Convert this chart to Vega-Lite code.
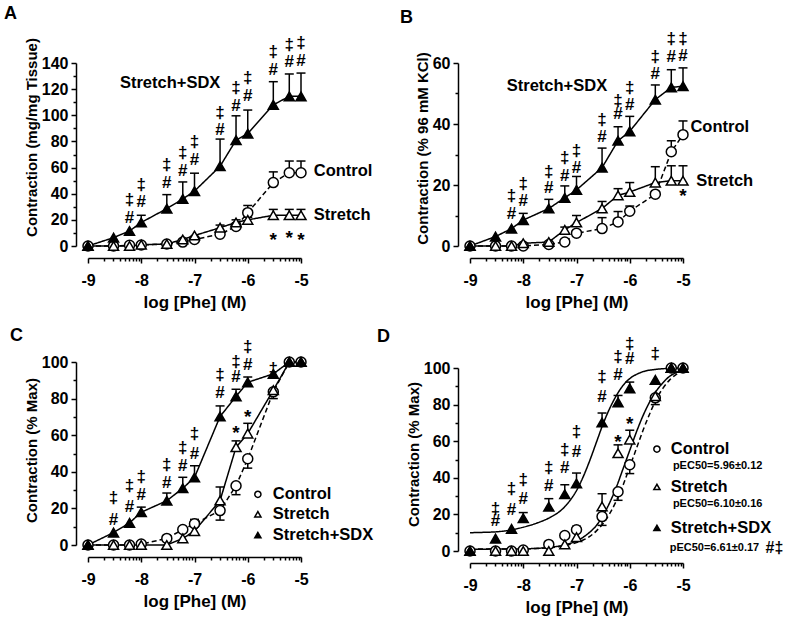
{
"$schema": "https://vega.github.io/schema/vega-lite/v6.json",
"background": "white",
"padding": {"left": 4, "top": 5, "right": 5, "bottom": 5},
"config": {
 "view": {"stroke": null},
 "font": "Liberation Sans",
 "axis": {"grid": false, "domainColor": "black", "domainWidth": 1.5, "tickColor": "black", "tickWidth": 1.5, "labelFont": "Liberation Sans", "labelFontSize": 16, "labelFontWeight": "bold", "labelColor": "black", "titleFont": "Liberation Sans", "titleColor": "black", "offset": 12, "labelOverlap": false, "labelFlush": false},
 "axisX": {"titleFontSize": 17, "titleFontWeight": "bold", "titlePadding": 6, "labelPadding": 9},
 "axisY": {"titleFontSize": 15, "titleFontWeight": "bold", "titlePadding": 2, "labelPadding": 3},
 "title": {"font": "Liberation Sans", "fontSize": 18, "fontWeight": "bold", "color": "black", "anchor": "start", "frame": "group", "baseline": "alphabetic"}
},
"datasets": {
 "A": [
  {"g":"Control","x":-9,"v":0},{"g":"Control","x":-8.52,"v":0},{"g":"Control","x":-8.22,"v":0.5},{"g":"Control","x":-8,"v":0.8},{"g":"Control","x":-7.52,"v":1.5},{"g":"Control","x":-7.22,"v":3},{"g":"Control","x":-7,"v":5},{"g":"Control","x":-6.52,"v":9},{"g":"Control","x":-6.22,"v":15,"e":17},{"g":"Control","x":-6,"v":25.5,"e":31},{"g":"Control","x":-5.52,"v":48.5,"e":56.7},{"g":"Control","x":-5.22,"v":56,"e":65},{"g":"Control","x":-5,"v":56,"e":65},
  {"g":"Stretch","x":-9,"v":0},{"g":"Stretch","x":-8.52,"v":0},{"g":"Stretch","x":-8.22,"v":0},{"g":"Stretch","x":-8,"v":1},{"g":"Stretch","x":-7.52,"v":1.5},{"g":"Stretch","x":-7.22,"v":5},{"g":"Stretch","x":-7,"v":8},{"g":"Stretch","x":-6.52,"v":14,"e":16},{"g":"Stretch","x":-6.22,"v":18,"e":20},{"g":"Stretch","x":-6,"v":20,"e":22},{"g":"Stretch","x":-5.52,"v":23.5,"e":28},{"g":"Stretch","x":-5.22,"v":23.5,"e":28},{"g":"Stretch","x":-5,"v":23.5,"e":28},
  {"g":"Stretch+SDX","x":-9,"v":0},{"g":"Stretch+SDX","x":-8.52,"v":6.4},{"g":"Stretch+SDX","x":-8.22,"v":11.5},{"g":"Stretch+SDX","x":-8,"v":18,"e":23.5},{"g":"Stretch+SDX","x":-7.52,"v":28.6,"e":39.3},{"g":"Stretch+SDX","x":-7.22,"v":36,"e":49},{"g":"Stretch+SDX","x":-7,"v":42,"e":55.7},{"g":"Stretch+SDX","x":-6.52,"v":61,"e":81.8},{"g":"Stretch+SDX","x":-6.22,"v":81,"e":99.6},{"g":"Stretch+SDX","x":-6,"v":86,"e":104},{"g":"Stretch+SDX","x":-5.52,"v":108,"e":125.7},{"g":"Stretch+SDX","x":-5.22,"v":114.5,"e":131.6},{"g":"Stretch+SDX","x":-5,"v":114.5,"e":132.3}
 ],
 "A_sym": [
  {"x":-8.22,"v":35.3,"t":"‡"},{"x":-8.22,"v":21.2,"t":"#"},{"x":-8,"v":46.8,"t":"‡"},{"x":-8,"v":34,"t":"#"},{"x":-7.52,"v":61.8,"t":"‡"},{"x":-7.52,"v":48,"t":"#"},{"x":-7.22,"v":71,"t":"‡"},{"x":-7.22,"v":57.5,"t":"#"},{"x":-7,"v":79.7,"t":"‡"},{"x":-7,"v":65.9,"t":"#"},{"x":-6.52,"v":101.7,"t":"‡"},{"x":-6.52,"v":88.9,"t":"#"},{"x":-6.22,"v":120.6,"t":"‡"},{"x":-6.22,"v":106.8,"t":"#"},{"x":-6,"v":128.3,"t":"‡"},{"x":-6,"v":115,"t":"#"},{"x":-5.52,"v":148.2,"t":"‡"},{"x":-5.52,"v":134.9,"t":"#"},{"x":-5.22,"v":153.8,"t":"‡"},{"x":-5.22,"v":141,"t":"#"},{"x":-5,"v":155.3,"t":"‡"},{"x":-5,"v":141.8,"t":"#"}
 ],
 "A_star": [
  {"x":-5.52,"v":4.5,"t":"*"},{"x":-5.22,"v":6,"t":"*"},{"x":-5,"v":4.5,"t":"*"}
 ],
 "A_lab": [
  {"x":-8.4,"v":124.7,"t":"Stretch+SDX"},{"x":-4.76,"v":57.5,"t":"Control"},{"x":-4.76,"v":23.5,"t":"Stretch"}
 ],
 "B": [
  {"g":"Control","x":-9,"v":0},{"g":"Control","x":-8.52,"v":0},{"g":"Control","x":-8.22,"v":0},{"g":"Control","x":-8,"v":0},{"g":"Control","x":-7.52,"v":0.5},{"g":"Control","x":-7.22,"v":1.3},{"g":"Control","x":-7,"v":4.2},{"g":"Control","x":-6.52,"v":5.7,"e":9.3},{"g":"Control","x":-6.22,"v":7.9,"e":11.3},{"g":"Control","x":-6,"v":11.4,"e":13.1},{"g":"Control","x":-5.52,"v":17},{"g":"Control","x":-5.22,"v":30.9,"e":34.5},{"g":"Control","x":-5,"v":36.5,"e":41},
  {"g":"Stretch","x":-9,"v":0},{"g":"Stretch","x":-8.52,"v":0},{"g":"Stretch","x":-8.22,"v":0},{"g":"Stretch","x":-8,"v":0.9},{"g":"Stretch","x":-7.52,"v":1.3},{"g":"Stretch","x":-7.22,"v":5.3,"e":6.2},{"g":"Stretch","x":-7,"v":7.7,"e":10},{"g":"Stretch","x":-6.52,"v":12.3,"e":14.6},{"g":"Stretch","x":-6.22,"v":16.6,"e":18.8},{"g":"Stretch","x":-6,"v":17.7,"e":20.8},{"g":"Stretch","x":-5.52,"v":20.8,"e":26},{"g":"Stretch","x":-5.22,"v":21.4,"e":26.3},{"g":"Stretch","x":-5,"v":21.4,"e":26.3},
  {"g":"Stretch+SDX","x":-9,"v":0},{"g":"Stretch+SDX","x":-8.52,"v":3.1},{"g":"Stretch+SDX","x":-8.22,"v":5.7},{"g":"Stretch+SDX","x":-8,"v":8.5,"e":10.7},{"g":"Stretch+SDX","x":-7.52,"v":12.3,"e":15.3},{"g":"Stretch+SDX","x":-7.22,"v":15.8,"e":19.7},{"g":"Stretch+SDX","x":-7,"v":18.4,"e":22.8},{"g":"Stretch+SDX","x":-6.52,"v":25.7,"e":32.1},{"g":"Stretch+SDX","x":-6.22,"v":34.5,"e":39.1},{"g":"Stretch+SDX","x":-6,"v":37.6,"e":42.5},{"g":"Stretch+SDX","x":-5.52,"v":48,"e":52.8},{"g":"Stretch+SDX","x":-5.22,"v":52,"e":57.8},{"g":"Stretch+SDX","x":-5,"v":52.4,"e":58.4}
 ],
 "B_sym": [
  {"x":-8.22,"v":16.4,"t":"‡"},{"x":-8.22,"v":10.4,"t":"#"},{"x":-8,"v":20.3,"t":"‡"},{"x":-8,"v":14.8,"t":"#"},{"x":-7.52,"v":24.1,"t":"‡"},{"x":-7.52,"v":18.9,"t":"#"},{"x":-7.22,"v":28.7,"t":"‡"},{"x":-7.22,"v":23,"t":"#"},{"x":-7,"v":31.2,"t":"‡"},{"x":-7,"v":25.7,"t":"#"},{"x":-6.52,"v":41.4,"t":"‡"},{"x":-6.52,"v":35.9,"t":"#"},{"x":-6.22,"v":47.6,"t":"‡"},{"x":-6.22,"v":43.3,"t":"#"},{"x":-6,"v":51.7,"t":"‡"},{"x":-6,"v":46.2,"t":"#"},{"x":-5.52,"v":61.9,"t":"‡"},{"x":-5.52,"v":56.4,"t":"#"},{"x":-5.22,"v":67.9,"t":"‡"},{"x":-5.22,"v":61.9,"t":"#"},{"x":-5,"v":67.9,"t":"‡"},{"x":-5,"v":62.2,"t":"#"}
 ],
 "B_star": [
  {"x":-5,"v":16.3,"t":"*"}
 ],
 "B_lab": [
  {"x":-8.31,"v":52.4,"t":"Stretch+SDX"},{"x":-4.86,"v":38.9,"t":"Control"},{"x":-4.75,"v":21.4,"t":"Stretch"}
 ],
 "C": [
  {"g":"Control","x":-9,"v":0},{"g":"Control","x":-8.52,"v":0},{"g":"Control","x":-8.22,"v":0},{"g":"Control","x":-8,"v":0.5},{"g":"Control","x":-7.52,"v":3.6},{"g":"Control","x":-7.22,"v":8.5},{"g":"Control","x":-7,"v":11.6,"e":14},{"g":"Control","x":-6.52,"v":18.8,"e":13.6},{"g":"Control","x":-6.22,"v":32.4,"e":27.5},{"g":"Control","x":-6,"v":47.1,"e":42},{"g":"Control","x":-5.52,"v":83.7,"e":80},{"g":"Control","x":-5.22,"v":100},{"g":"Control","x":-5,"v":100},
  {"g":"Stretch","x":-9,"v":0},{"g":"Stretch","x":-8.52,"v":0},{"g":"Stretch","x":-8.22,"v":0},{"g":"Stretch","x":-8,"v":0},{"g":"Stretch","x":-7.52,"v":0},{"g":"Stretch","x":-7.22,"v":3.6},{"g":"Stretch","x":-7,"v":7.6},{"g":"Stretch","x":-6.52,"v":24.3,"e":31.7},{"g":"Stretch","x":-6.22,"v":53.4,"e":56.9},{"g":"Stretch","x":-6,"v":60.9,"e":66.5},{"g":"Stretch","x":-5.52,"v":84.6},{"g":"Stretch","x":-5.22,"v":100},{"g":"Stretch","x":-5,"v":100},
  {"g":"Stretch+SDX","x":-9,"v":0},{"g":"Stretch+SDX","x":-8.52,"v":6.8},{"g":"Stretch+SDX","x":-8.22,"v":12.1},{"g":"Stretch+SDX","x":-8,"v":17.9,"e":20.7},{"g":"Stretch+SDX","x":-7.52,"v":24.2,"e":28.4},{"g":"Stretch+SDX","x":-7.22,"v":31,"e":37},{"g":"Stretch+SDX","x":-7,"v":36.9,"e":43.3},{"g":"Stretch+SDX","x":-6.52,"v":70.2,"e":76},{"g":"Stretch+SDX","x":-6.22,"v":81.2,"e":85.1},{"g":"Stretch+SDX","x":-6,"v":88.9,"e":91.8},{"g":"Stretch+SDX","x":-5.52,"v":93.5},{"g":"Stretch+SDX","x":-5.22,"v":100},{"g":"Stretch+SDX","x":-5,"v":100}
 ],
 "C_sym": [
  {"x":-8.52,"v":25.7,"t":"‡"},{"x":-8.52,"v":13.9,"t":"#"},{"x":-8.22,"v":32.1,"t":"‡"},{"x":-8.22,"v":20.7,"t":"#"},{"x":-8,"v":37,"t":"‡"},{"x":-8,"v":27.2,"t":"#"},{"x":-7.52,"v":43.5,"t":"‡"},{"x":-7.52,"v":33.9,"t":"#"},{"x":-7.22,"v":52.9,"t":"‡"},{"x":-7.22,"v":42.9,"t":"#"},{"x":-7,"v":60.5,"t":"‡"},{"x":-7,"v":49.6,"t":"#"},{"x":-6.52,"v":93.1,"t":"‡"},{"x":-6.52,"v":82.8,"t":"#"},{"x":-6.22,"v":100,"t":"‡"},{"x":-6.22,"v":91.8,"t":"#"},{"x":-6,"v":108.2,"t":"‡"},{"x":-6,"v":98.2,"t":"#"},{"x":-5.52,"v":96.4,"t":"‡"}
 ],
 "C_star": [
  {"x":-6.22,"v":61.3,"t":"*"},{"x":-6,"v":69.8,"t":"*"}
 ],
 "C_key": [
  {"g":"Control","x":-5.81,"v":27.7},{"g":"Stretch","x":-5.81,"v":16.8},{"g":"Stretch+SDX","x":-5.81,"v":5.4}
 ],
 "C_keytext": [
  {"x":-5.53,"v":27.7,"t":"Control"},{"x":-5.53,"v":16.8,"t":"Stretch"},{"x":-5.53,"v":5.4,"t":"Stretch+SDX"}
 ],
 "D": [
  {"g":"Control","x":-9,"v":0},{"g":"Control","x":-8.52,"v":0},{"g":"Control","x":-8.22,"v":0},{"g":"Control","x":-8,"v":0.5},{"g":"Control","x":-7.52,"v":3.6},{"g":"Control","x":-7.22,"v":8.5},{"g":"Control","x":-7,"v":11.6,"e":13.5},{"g":"Control","x":-6.52,"v":18.8,"e":14},{"g":"Control","x":-6.22,"v":32.4,"e":27.7},{"g":"Control","x":-6,"v":47.1,"e":42.3},{"g":"Control","x":-5.52,"v":83.7,"e":80},{"g":"Control","x":-5.22,"v":100},{"g":"Control","x":-5,"v":100},
  {"g":"Stretch","x":-9,"v":0},{"g":"Stretch","x":-8.52,"v":0},{"g":"Stretch","x":-8.22,"v":0},{"g":"Stretch","x":-8,"v":0},{"g":"Stretch","x":-7.52,"v":0},{"g":"Stretch","x":-7.22,"v":3.6},{"g":"Stretch","x":-7,"v":7.6},{"g":"Stretch","x":-6.52,"v":24.3,"e":31.3},{"g":"Stretch","x":-6.22,"v":53.4,"e":58},{"g":"Stretch","x":-6,"v":60.9,"e":66},{"g":"Stretch","x":-5.52,"v":84.6},{"g":"Stretch","x":-5.22,"v":100},{"g":"Stretch","x":-5,"v":100},
  {"g":"Stretch+SDX","x":-9,"v":0},{"g":"Stretch+SDX","x":-8.52,"v":6.8},{"g":"Stretch+SDX","x":-8.22,"v":12.1},{"g":"Stretch+SDX","x":-8,"v":17.9,"e":21},{"g":"Stretch+SDX","x":-7.52,"v":24.2,"e":28.6},{"g":"Stretch+SDX","x":-7.22,"v":31,"e":36.2},{"g":"Stretch+SDX","x":-7,"v":36.9,"e":42.6},{"g":"Stretch+SDX","x":-6.52,"v":70.2,"e":75.4},{"g":"Stretch+SDX","x":-6.22,"v":81.2,"e":85},{"g":"Stretch+SDX","x":-6,"v":88.9,"e":92.3},{"g":"Stretch+SDX","x":-5.52,"v":93.5},{"g":"Stretch+SDX","x":-5.22,"v":100},{"g":"Stretch+SDX","x":-5,"v":100}
 ],
 "D_fit": [
  {"g":"Control","x":-9,"v":1},{"g":"Control","x":-8.5,"v":1.1},{"g":"Control","x":-8,"v":1.2},{"g":"Control","x":-7.5,"v":1.8},{"g":"Control","x":-7.25,"v":2.8},{"g":"Control","x":-7,"v":4.6},{"g":"Control","x":-6.875,"v":6},{"g":"Control","x":-6.75,"v":8},{"g":"Control","x":-6.625,"v":11},{"g":"Control","x":-6.5,"v":15},{"g":"Control","x":-6.375,"v":20.5},{"g":"Control","x":-6.25,"v":27.5},{"g":"Control","x":-6.125,"v":36},{"g":"Control","x":-6,"v":46},{"g":"Control","x":-5.875,"v":56},{"g":"Control","x":-5.75,"v":66},{"g":"Control","x":-5.625,"v":75},{"g":"Control","x":-5.5,"v":83},{"g":"Control","x":-5.375,"v":89},{"g":"Control","x":-5.25,"v":93.5},{"g":"Control","x":-5.125,"v":96.5},{"g":"Control","x":-5,"v":98.5},
  {"g":"Stretch","x":-9,"v":1},{"g":"Stretch","x":-8.5,"v":1.05},{"g":"Stretch","x":-8,"v":1.2},{"g":"Stretch","x":-7.5,"v":2},{"g":"Stretch","x":-7.25,"v":3.2},{"g":"Stretch","x":-7,"v":5.5},{"g":"Stretch","x":-6.875,"v":7.5},{"g":"Stretch","x":-6.75,"v":10.3},{"g":"Stretch","x":-6.625,"v":14},{"g":"Stretch","x":-6.5,"v":19.5},{"g":"Stretch","x":-6.375,"v":26.5},{"g":"Stretch","x":-6.25,"v":35},{"g":"Stretch","x":-6.125,"v":45},{"g":"Stretch","x":-6,"v":55},{"g":"Stretch","x":-5.875,"v":65},{"g":"Stretch","x":-5.75,"v":74},{"g":"Stretch","x":-5.625,"v":81.5},{"g":"Stretch","x":-5.5,"v":87.5},{"g":"Stretch","x":-5.375,"v":92},{"g":"Stretch","x":-5.25,"v":95.5},{"g":"Stretch","x":-5.125,"v":97.5},{"g":"Stretch","x":-5,"v":98.8},
  {"g":"Stretch+SDX","x":-9,"v":10},{"g":"Stretch+SDX","x":-8.75,"v":10.2},{"g":"Stretch+SDX","x":-8.5,"v":10.5},{"g":"Stretch+SDX","x":-8.25,"v":11.4},{"g":"Stretch+SDX","x":-8,"v":13},{"g":"Stretch+SDX","x":-7.75,"v":15.2},{"g":"Stretch+SDX","x":-7.5,"v":18.3},{"g":"Stretch+SDX","x":-7.25,"v":23.3},{"g":"Stretch+SDX","x":-7.125,"v":27.5},{"g":"Stretch+SDX","x":-7,"v":33},{"g":"Stretch+SDX","x":-6.875,"v":40.5},{"g":"Stretch+SDX","x":-6.75,"v":49.5},{"g":"Stretch+SDX","x":-6.625,"v":59.5},{"g":"Stretch+SDX","x":-6.5,"v":69.5},{"g":"Stretch+SDX","x":-6.375,"v":78},{"g":"Stretch+SDX","x":-6.25,"v":85},{"g":"Stretch+SDX","x":-6.125,"v":90.5},{"g":"Stretch+SDX","x":-6,"v":94.2},{"g":"Stretch+SDX","x":-5.875,"v":96.5},{"g":"Stretch+SDX","x":-5.75,"v":98},{"g":"Stretch+SDX","x":-5.5,"v":99.3},{"g":"Stretch+SDX","x":-5.25,"v":99.8},{"g":"Stretch+SDX","x":-5,"v":100}
 ],
 "D_sym": [
  {"x":-8.52,"v":23.1,"t":"‡"},{"x":-8.52,"v":16.4,"t":"#"},{"x":-8.22,"v":34.1,"t":"‡"},{"x":-8.22,"v":22.2,"t":"#"},{"x":-8,"v":38.6,"t":"‡"},{"x":-8,"v":28.6,"t":"#"},{"x":-7.52,"v":45.4,"t":"‡"},{"x":-7.52,"v":35.5,"t":"#"},{"x":-7.22,"v":55,"t":"‡"},{"x":-7.22,"v":45.4,"t":"#"},{"x":-7,"v":65,"t":"‡"},{"x":-7,"v":54.1,"t":"#"},{"x":-6.52,"v":95.1,"t":"‡"},{"x":-6.52,"v":84.2,"t":"#"},{"x":-6.22,"v":106,"t":"‡"},{"x":-6.22,"v":96,"t":"#"},{"x":-6,"v":113.3,"t":"‡"},{"x":-6,"v":105.1,"t":"#"},{"x":-5.52,"v":107.8,"t":"‡"}
 ],
 "D_star": [
  {"x":-6.22,"v":59.8,"t":"*"},{"x":-6,"v":69.4,"t":"*"}
 ],
 "D_key": [
  {"g":"Control","x":-5.49,"v":55.7},{"g":"Stretch","x":-5.49,"v":35},{"g":"Stretch+SDX","x":-5.49,"v":12.6}
 ],
 "D_keytext": [
  {"x":-5.23,"v":55.7,"t":"Control"},{"x":-5.23,"v":35,"t":"Stretch"},{"x":-5.23,"v":12.6,"t":"Stretch+SDX"}
 ],
 "D_ec": [
  {"x":-5.19,"v":46.4,"t":"pEC50=5.96±0.12"},{"x":-5.19,"v":25.7,"t":"pEC50=6.10±0.16"},{"x":-5.25,"v":1.6,"t":"pEC50=6.61±0.17"}
 ],
 "D_ec2": [
  {"x":-3.45,"v":1.6,"t":"#‡"}
 ]
},
"spacing": 3,
"hconcat": [
 {
  "vconcat": [
   {
    "width": 213, "height": 183,
    "title": {"text": "A", "dx": -84, "offset": 11},
    "encoding": {
     "x": {"field": "x", "type": "quantitative", "title": "log [Phe] (M)", "scale": {"domain": [-9, -5], "nice": false, "zero": false},
      "axis": {"values": [-9,-8.699,-8.523,-8.398,-8.301,-8.222,-8.155,-8.097,-8.046,-8,-7.699,-7.523,-7.398,-7.301,-7.222,-7.155,-7.097,-7.046,-7,-6.699,-6.523,-6.398,-6.301,-6.222,-6.155,-6.097,-6.046,-6,-5.699,-5.523,-5.398,-5.301,-5.222,-5.155,-5.097,-5.046,-5], "labelExpr": "datum.value % 1 === 0 ? toString(datum.value) : ''", "tickSize": {"condition": {"test": "datum.value % 1 === 0", "value": 5}, "value": 3}}},
     "y": {"field": "v", "type": "quantitative", "title": "Contraction (mg/mg Tissue)", "scale": {"domain": [0, 140], "nice": false},
      "axis": {"titleY": 74, "values": [0,10,20,30,40,50,60,70,80,90,100,110,120,130,140], "labelExpr": "datum.value % 20 === 0 ? datum.label : ''", "tickSize": {"condition": {"test": "datum.value % 20 === 0", "value": 5}, "value": 3}}}
    },
    "layer": [
     {"data": {"name": "A"}, "mark": {"type": "line", "color": "black", "strokeWidth": 1.5}, "encoding": {"strokeDash": {"field": "g", "type": "nominal", "scale": {"domain": ["Control","Stretch","Stretch+SDX"], "range": [[5,3],[1,0],[1,0]]}, "legend": null}}},
     {"data": {"name": "A"}, "transform": [{"filter": "isValid(datum.e)"}], "mark": {"type": "rule", "color": "black", "strokeWidth": 1.5}, "encoding": {"y2": {"field": "e"}}},
     {"data": {"name": "A"}, "transform": [{"filter": "isValid(datum.e)"}], "mark": {"type": "tick", "orient": "horizontal", "size": 9, "thickness": 1.5, "color": "black", "opacity": 1}, "encoding": {"y": {"field": "e", "type": "quantitative", "title": "Contraction (mg/mg Tissue)"}}},
     {"data": {"name": "A"}, "mark": {"type": "point", "filled": true, "stroke": "black", "strokeWidth": 1.5, "size": 100, "opacity": 1}, "encoding": {"shape": {"field": "g", "type": "nominal", "scale": {"domain": ["Control","Stretch","Stretch+SDX"], "range": ["circle","triangle-up","triangle-up"]}, "legend": null}, "fill": {"field": "g", "type": "nominal", "scale": {"domain": ["Control","Stretch","Stretch+SDX"], "range": ["white","white","black"]}, "legend": null}}},
     {"data": {"name": "A_sym"}, "mark": {"type": "text", "fontSize": 17, "fontWeight": "bold", "color": "black", "baseline": "middle"}, "encoding": {"text": {"field": "t"}}},
     {"data": {"name": "A_star"}, "mark": {"type": "text", "fontSize": 19, "fontWeight": "bold", "color": "black", "baseline": "middle"}, "encoding": {"text": {"field": "t"}}},
     {"data": {"name": "A_lab"}, "mark": {"type": "text", "fontSize": 16.5, "fontWeight": "bold", "color": "black", "align": "left", "baseline": "middle"}, "encoding": {"text": {"field": "t"}}}
    ]
   },
   {
    "width": 213, "height": 183,
    "title": {"text": "C", "dx": -78, "offset": -7},
    "encoding": {
     "x": {"field": "x", "type": "quantitative", "title": "log [Phe] (M)", "scale": {"domain": [-9, -5], "nice": false, "zero": false},
      "axis": {"values": [-9,-8.699,-8.523,-8.398,-8.301,-8.222,-8.155,-8.097,-8.046,-8,-7.699,-7.523,-7.398,-7.301,-7.222,-7.155,-7.097,-7.046,-7,-6.699,-6.523,-6.398,-6.301,-6.222,-6.155,-6.097,-6.046,-6,-5.699,-5.523,-5.398,-5.301,-5.222,-5.155,-5.097,-5.046,-5], "labelExpr": "datum.value % 1 === 0 ? toString(datum.value) : ''", "tickSize": {"condition": {"test": "datum.value % 1 === 0", "value": 5}, "value": 3}}},
     "y": {"field": "v", "type": "quantitative", "title": "Contraction (% Max)", "scale": {"domain": [0, 100], "nice": false},
      "axis": {"titleY": 88, "values": [0,10,20,30,40,50,60,70,80,90,100], "labelExpr": "datum.value % 20 === 0 ? datum.label : ''", "tickSize": {"condition": {"test": "datum.value % 20 === 0", "value": 5}, "value": 3}}}
    },
    "layer": [
     {"data": {"name": "C"}, "mark": {"type": "line", "color": "black", "strokeWidth": 1.5}, "encoding": {"strokeDash": {"field": "g", "type": "nominal", "scale": {"domain": ["Control","Stretch","Stretch+SDX"], "range": [[5,3],[1,0],[1,0]]}, "legend": null}}},
     {"data": {"name": "C"}, "transform": [{"filter": "isValid(datum.e)"}], "mark": {"type": "rule", "color": "black", "strokeWidth": 1.5}, "encoding": {"y2": {"field": "e"}}},
     {"data": {"name": "C"}, "transform": [{"filter": "isValid(datum.e)"}], "mark": {"type": "tick", "orient": "horizontal", "size": 9, "thickness": 1.5, "color": "black", "opacity": 1}, "encoding": {"y": {"field": "e", "type": "quantitative", "title": "Contraction (% Max)"}}},
     {"data": {"name": "C"}, "mark": {"type": "point", "filled": true, "stroke": "black", "strokeWidth": 1.5, "size": 100, "opacity": 1}, "encoding": {"shape": {"field": "g", "type": "nominal", "scale": {"domain": ["Control","Stretch","Stretch+SDX"], "range": ["circle","triangle-up","triangle-up"]}, "legend": null}, "fill": {"field": "g", "type": "nominal", "scale": {"domain": ["Control","Stretch","Stretch+SDX"], "range": ["white","white","black"]}, "legend": null}}},
     {"data": {"name": "C_key"}, "mark": {"type": "point", "filled": true, "stroke": "black", "strokeWidth": 1.5, "size": 38, "opacity": 1}, "encoding": {"shape": {"field": "g", "type": "nominal", "scale": {"domain": ["Control","Stretch","Stretch+SDX"], "range": ["circle","triangle-up","triangle-up"]}, "legend": null}, "fill": {"field": "g", "type": "nominal", "scale": {"domain": ["Control","Stretch","Stretch+SDX"], "range": ["white","white","black"]}, "legend": null}}},
     {"data": {"name": "C_keytext"}, "mark": {"type": "text", "fontSize": 16.5, "fontWeight": "bold", "color": "black", "align": "left", "baseline": "middle"}, "encoding": {"text": {"field": "t"}}},
     {"data": {"name": "C_sym"}, "mark": {"type": "text", "fontSize": 17, "fontWeight": "bold", "color": "black", "baseline": "middle"}, "encoding": {"text": {"field": "t"}}},
     {"data": {"name": "C_star"}, "mark": {"type": "text", "fontSize": 19, "fontWeight": "bold", "color": "black", "baseline": "middle"}, "encoding": {"text": {"field": "t"}}}
    ]
   }
  ],
  "spacing": 16,
  "bounds": "full",
  "resolve": {"scale": {"shape": "independent", "fill": "independent", "strokeDash": "independent"}}
 },
 {
  "vconcat": [
   {
    "width": 213, "height": 183,
    "title": {"text": "B", "dx": -70, "offset": 3},
    "encoding": {
     "x": {"field": "x", "type": "quantitative", "title": "log [Phe] (M)", "scale": {"domain": [-9, -5], "nice": false, "zero": false},
      "axis": {"values": [-9,-8.699,-8.523,-8.398,-8.301,-8.222,-8.155,-8.097,-8.046,-8,-7.699,-7.523,-7.398,-7.301,-7.222,-7.155,-7.097,-7.046,-7,-6.699,-6.523,-6.398,-6.301,-6.222,-6.155,-6.097,-6.046,-6,-5.699,-5.523,-5.398,-5.301,-5.222,-5.155,-5.097,-5.046,-5], "labelExpr": "datum.value % 1 === 0 ? toString(datum.value) : ''", "tickSize": {"condition": {"test": "datum.value % 1 === 0", "value": 5}, "value": 3}}},
     "y": {"field": "v", "type": "quantitative", "title": "Contraction (% 96 mM KCl)", "scale": {"domain": [0, 60], "nice": false},
      "axis": {"titleY": 85, "values": [0,10,20,30,40,50,60], "labelExpr": "datum.value % 20 === 0 ? datum.label : ''", "tickSize": {"condition": {"test": "datum.value % 20 === 0", "value": 5}, "value": 3}}}
    },
    "layer": [
     {"data": {"name": "B"}, "mark": {"type": "line", "color": "black", "strokeWidth": 1.5}, "encoding": {"strokeDash": {"field": "g", "type": "nominal", "scale": {"domain": ["Control","Stretch","Stretch+SDX"], "range": [[5,3],[1,0],[1,0]]}, "legend": null}}},
     {"data": {"name": "B"}, "transform": [{"filter": "isValid(datum.e)"}], "mark": {"type": "rule", "color": "black", "strokeWidth": 1.5}, "encoding": {"y2": {"field": "e"}}},
     {"data": {"name": "B"}, "transform": [{"filter": "isValid(datum.e)"}], "mark": {"type": "tick", "orient": "horizontal", "size": 9, "thickness": 1.5, "color": "black", "opacity": 1}, "encoding": {"y": {"field": "e", "type": "quantitative", "title": "Contraction (% 96 mM KCl)"}}},
     {"data": {"name": "B"}, "mark": {"type": "point", "filled": true, "stroke": "black", "strokeWidth": 1.5, "size": 100, "opacity": 1}, "encoding": {"shape": {"field": "g", "type": "nominal", "scale": {"domain": ["Control","Stretch","Stretch+SDX"], "range": ["circle","triangle-up","triangle-up"]}, "legend": null}, "fill": {"field": "g", "type": "nominal", "scale": {"domain": ["Control","Stretch","Stretch+SDX"], "range": ["white","white","black"]}, "legend": null}}},
     {"data": {"name": "B_sym"}, "mark": {"type": "text", "fontSize": 17, "fontWeight": "bold", "color": "black", "baseline": "middle"}, "encoding": {"text": {"field": "t"}}},
     {"data": {"name": "B_star"}, "mark": {"type": "text", "fontSize": 19, "fontWeight": "bold", "color": "black", "baseline": "middle"}, "encoding": {"text": {"field": "t"}}},
     {"data": {"name": "B_lab"}, "mark": {"type": "text", "fontSize": 16.5, "fontWeight": "bold", "color": "black", "align": "left", "baseline": "middle"}, "encoding": {"text": {"field": "t"}}}
    ]
   },
   {
    "width": 213, "height": 183,
    "title": {"text": "D", "dx": -93, "offset": -11},
    "encoding": {
     "x": {"field": "x", "type": "quantitative", "title": "log [Phe] (M)", "scale": {"domain": [-9, -5], "nice": false, "zero": false},
      "axis": {"values": [-9,-8.699,-8.523,-8.398,-8.301,-8.222,-8.155,-8.097,-8.046,-8,-7.699,-7.523,-7.398,-7.301,-7.222,-7.155,-7.097,-7.046,-7,-6.699,-6.523,-6.398,-6.301,-6.222,-6.155,-6.097,-6.046,-6,-5.699,-5.523,-5.398,-5.301,-5.222,-5.155,-5.097,-5.046,-5], "labelExpr": "datum.value % 1 === 0 ? toString(datum.value) : ''", "tickSize": {"condition": {"test": "datum.value % 1 === 0", "value": 5}, "value": 3}}},
     "y": {"field": "v", "type": "quantitative", "title": "Contraction (% Max)", "scale": {"domain": [0, 100], "nice": false},
      "axis": {"titleY": 86, "values": [0,10,20,30,40,50,60,70,80,90,100], "labelExpr": "datum.value % 20 === 0 ? datum.label : ''", "tickSize": {"condition": {"test": "datum.value % 20 === 0", "value": 5}, "value": 3}}}
    },
    "layer": [
     {"data": {"name": "D_fit"}, "mark": {"type": "line", "color": "black", "strokeWidth": 1.5, "interpolate": "monotone"}, "encoding": {"strokeDash": {"field": "g", "type": "nominal", "scale": {"domain": ["Control","Stretch","Stretch+SDX"], "range": [[5,3],[1,0],[1,0]]}, "legend": null}}},
     {"data": {"name": "D"}, "transform": [{"filter": "isValid(datum.e)"}], "mark": {"type": "rule", "color": "black", "strokeWidth": 1.5}, "encoding": {"y2": {"field": "e"}}},
     {"data": {"name": "D"}, "transform": [{"filter": "isValid(datum.e)"}], "mark": {"type": "tick", "orient": "horizontal", "size": 9, "thickness": 1.5, "color": "black", "opacity": 1}, "encoding": {"y": {"field": "e", "type": "quantitative", "title": "Contraction (% Max)"}}},
     {"data": {"name": "D"}, "mark": {"type": "point", "filled": true, "stroke": "black", "strokeWidth": 1.5, "size": 100, "opacity": 1}, "encoding": {"shape": {"field": "g", "type": "nominal", "scale": {"domain": ["Control","Stretch","Stretch+SDX"], "range": ["circle","triangle-up","triangle-up"]}, "legend": null}, "fill": {"field": "g", "type": "nominal", "scale": {"domain": ["Control","Stretch","Stretch+SDX"], "range": ["white","white","black"]}, "legend": null}}},
     {"data": {"name": "D_key"}, "mark": {"type": "point", "filled": true, "stroke": "black", "strokeWidth": 1.5, "size": 38, "opacity": 1}, "encoding": {"shape": {"field": "g", "type": "nominal", "scale": {"domain": ["Control","Stretch","Stretch+SDX"], "range": ["circle","triangle-up","triangle-up"]}, "legend": null}, "fill": {"field": "g", "type": "nominal", "scale": {"domain": ["Control","Stretch","Stretch+SDX"], "range": ["white","white","black"]}, "legend": null}}},
     {"data": {"name": "D_keytext"}, "mark": {"type": "text", "fontSize": 16.5, "fontWeight": "bold", "color": "black", "align": "left", "baseline": "middle"}, "encoding": {"text": {"field": "t"}}},
     {"data": {"name": "D_sym"}, "mark": {"type": "text", "fontSize": 17, "fontWeight": "bold", "color": "black", "baseline": "middle"}, "encoding": {"text": {"field": "t"}}},
     {"data": {"name": "D_star"}, "mark": {"type": "text", "fontSize": 19, "fontWeight": "bold", "color": "black", "baseline": "middle"}, "encoding": {"text": {"field": "t"}}},
     {"data": {"name": "D_ec"}, "mark": {"type": "text", "fontSize": 11, "fontWeight": "bold", "color": "black", "align": "left", "baseline": "middle"}, "encoding": {"text": {"field": "t"}}},
     {"data": {"name": "D_ec2"}, "mark": {"type": "text", "fontSize": 16, "fontWeight": "bold", "color": "black", "align": "left", "baseline": "middle"}, "encoding": {"text": {"field": "t"}}}
    ]
   }
  ],
  "spacing": 17,
  "bounds": "full",
  "resolve": {"scale": {"shape": "independent", "fill": "independent", "strokeDash": "independent"}}
 }
],
"resolve": {"scale": {"shape": "independent", "fill": "independent", "strokeDash": "independent"}}
}
